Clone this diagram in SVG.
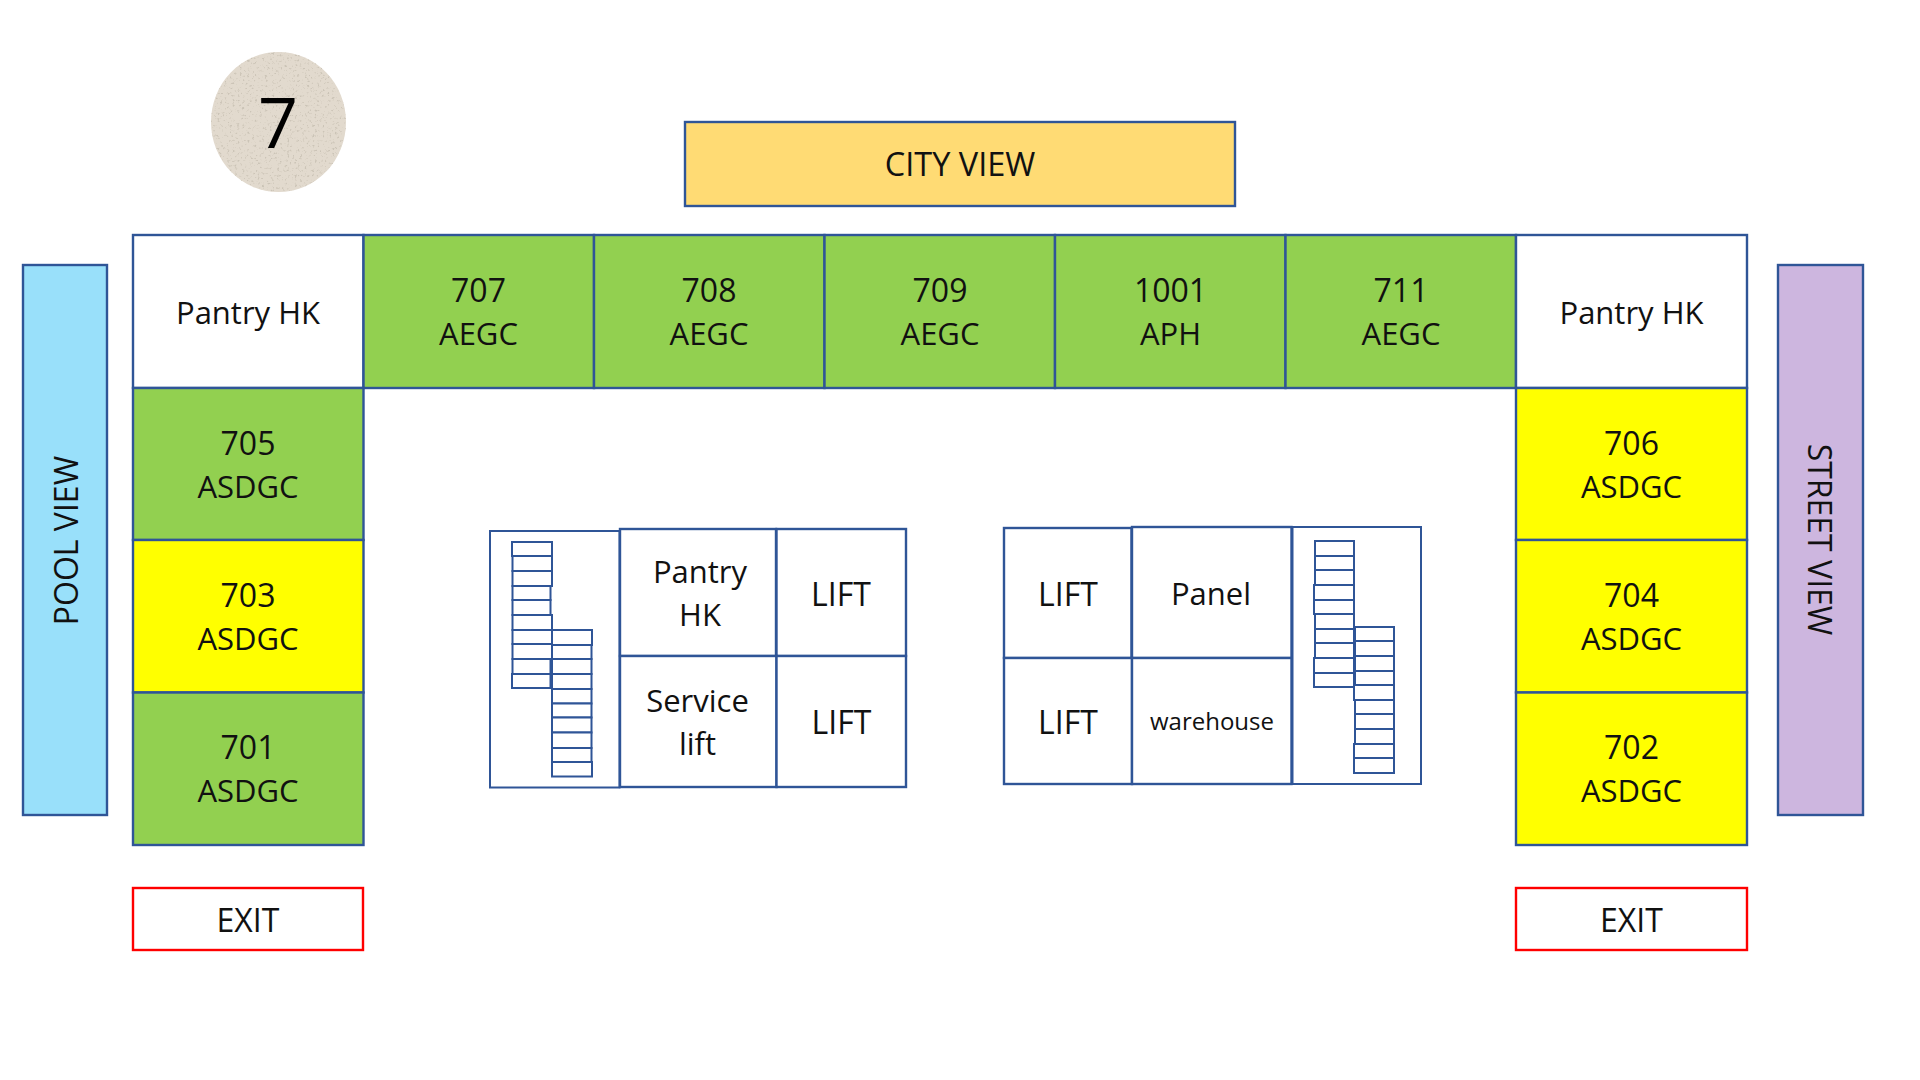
<svg xmlns="http://www.w3.org/2000/svg" width="1920" height="1080" viewBox="0 0 1920 1080">
<style>
text{font-family:"Open Sans","Noto Sans","Liberation Sans",sans-serif;font-size:31px;fill:#111;text-anchor:middle}
.c{font-size:32px}
rect{stroke:#2F5597;stroke-width:2.4}
.w{fill:#fff}.g{fill:#92D050}.y{fill:#FFFF00}
.e{fill:#fff;stroke:#FF0000}
.s{fill:#fff;stroke-width:2}
</style>
<defs>
<filter id="stone" x="0" y="0" width="1" height="1">
<feTurbulence type="fractalNoise" baseFrequency="0.4" numOctaves="3" seed="7" result="n"/>
<feColorMatrix in="n" type="matrix" values="0 0 0 0 0.6  0 0 0 0 0.55  0 0 0 0 0.47  0 0 0 -5 2.05" result="sp"/>
<feComposite in="sp" in2="SourceGraphic" operator="in" result="c"/>
<feMerge><feMergeNode in="SourceGraphic"/><feMergeNode in="c"/></feMerge>
</filter>
</defs>
<rect width="1920" height="1080" style="fill:#fff;stroke:none"/>
<g id="floor-badge"><ellipse cx="278.500" cy="122" rx="67.500" ry="70" fill="#E2DACE" filter="url(#stone)"/><text x="278" y="148" style="font-size:70px;fill:#000;font-weight:500">7</text></g>
<g id="city-view"><rect x="685" y="122" width="550" height="84" fill="#FFDB74"/><text class="c" x="960" y="176" style="font-size:32.500px">CITY VIEW</text></g>
<g id="pool-view"><rect x="23" y="265" width="84" height="550" fill="#99E0FA"/><text class="c" transform="translate(78 540.500) rotate(-90)">POOL VIEW</text></g>
<g id="street-view"><rect x="1778" y="265" width="85" height="550" fill="#CDB6DF"/><text class="c" transform="translate(1808 539.500) rotate(90)">STREET VIEW</text></g>
<g id="pantry-left"><rect class="w" x="133" y="235" width="230.500" height="153"/><text x="248" y="324">Pantry HK</text></g>
<g id="r707"><rect class="g" x="363.500" y="235" width="230.500" height="153"/><text class="c" x="478.500" y="302">707</text><text x="478.500" y="345">AEGC</text></g>
<g id="r708"><rect class="g" x="594" y="235" width="230.500" height="153"/><text class="c" x="709" y="302">708</text><text x="709" y="345">AEGC</text></g>
<g id="r709"><rect class="g" x="824.500" y="235" width="230.500" height="153"/><text class="c" x="940" y="302">709</text><text x="940" y="345">AEGC</text></g>
<g id="r1001"><rect class="g" x="1055" y="235" width="230.500" height="153"/><text class="c" x="1170.500" y="302">1001</text><text x="1170.500" y="345">APH</text></g>
<g id="r711"><rect class="g" x="1285.500" y="235" width="230.500" height="153"/><text class="c" x="1401" y="302">711</text><text x="1401" y="345">AEGC</text></g>
<g id="pantry-right"><rect class="w" x="1516" y="235" width="231" height="153"/><text x="1631.500" y="324">Pantry HK</text></g>
<g id="r705"><rect class="g" x="133" y="388" width="230.500" height="152"/><text class="c" x="248" y="455">705</text><text x="248" y="498">ASDGC</text></g>
<g id="r703"><rect class="y" x="133" y="540" width="230.500" height="152.500"/><text class="c" x="248" y="607">703</text><text x="248" y="650">ASDGC</text></g>
<g id="r701"><rect class="g" x="133" y="692.500" width="230.500" height="152.500"/><text class="c" x="248" y="759">701</text><text x="248" y="802">ASDGC</text></g>
<g id="r706"><rect class="y" x="1516" y="388" width="231" height="152"/><text class="c" x="1631.500" y="455">706</text><text x="1631.500" y="498">ASDGC</text></g>
<g id="r704"><rect class="y" x="1516" y="540" width="231" height="152.500"/><text class="c" x="1631.500" y="607">704</text><text x="1631.500" y="650">ASDGC</text></g>
<g id="r702"><rect class="y" x="1516" y="692.500" width="231" height="152.500"/><text class="c" x="1631.500" y="759">702</text><text x="1631.500" y="802">ASDGC</text></g>
<g id="exit-left"><rect class="e" x="133" y="888" width="230" height="62"/><text class="c" x="248" y="932">EXIT</text></g>
<g id="exit-right"><rect class="e" x="1516" y="888" width="231" height="62"/><text class="c" x="1631.500" y="932">EXIT</text></g>
<g id="stair-left">
<rect class="s" x="490" y="531" width="129.500" height="256.500"/>
<rect class="s" x="512" y="542" width="40" height="14"/><rect class="s" x="512.500" y="556" width="39.500" height="15"/><rect class="s" x="512.500" y="571" width="39.500" height="15"/><rect class="s" x="512.500" y="586" width="38" height="14"/><rect class="s" x="512.500" y="600" width="38" height="15"/><rect class="s" x="512.500" y="615" width="39.500" height="15"/><rect class="s" x="512.500" y="630" width="39.500" height="14"/><rect class="s" x="512.500" y="644" width="39.500" height="15"/><rect class="s" x="512.500" y="659" width="38" height="15"/><rect class="s" x="512" y="674" width="38.500" height="14"/>
<rect class="s" x="552" y="630" width="40" height="15"/><rect class="s" x="552" y="645" width="39.500" height="14"/><rect class="s" x="552" y="659" width="39.500" height="15"/><rect class="s" x="552" y="674" width="39.500" height="15"/><rect class="s" x="552" y="689" width="39.500" height="14.500"/><rect class="s" x="552" y="703.500" width="39.500" height="14"/><rect class="s" x="552" y="717.500" width="39.500" height="15"/><rect class="s" x="552" y="732.500" width="39.500" height="15.500"/><rect class="s" x="552" y="748" width="39.500" height="14"/><rect class="s" x="552" y="762" width="40" height="14.500"/>
</g>
<g id="pantry-core"><rect class="w" x="620" y="529" width="156" height="127"/><text x="700" y="583">Pantry</text><text x="700" y="626">HK</text></g>
<g id="lift-1"><rect class="w" x="776.500" y="529" width="129.500" height="127"/><text class="c" x="841" y="606">LIFT</text></g>
<g id="service-lift"><rect class="w" x="620" y="656" width="156.500" height="131"/><text x="697.500" y="712">Service</text><text x="697.500" y="755">lift</text></g>
<g id="lift-2"><rect class="w" x="776.500" y="656" width="129.500" height="131"/><text class="c" x="841.500" y="734">LIFT</text></g>
<g id="lift-3"><rect class="w" x="1004" y="528" width="127.500" height="130"/><text class="c" x="1068" y="606">LIFT</text></g>
<g id="panel"><rect class="w" x="1132" y="527" width="159.500" height="131"/><text x="1211" y="605">Panel</text></g>
<g id="lift-4"><rect class="w" x="1004" y="658" width="128" height="126"/><text class="c" x="1068" y="734">LIFT</text></g>
<g id="warehouse"><rect class="w" x="1132" y="658" width="159.500" height="126"/><text x="1212" y="730" style="font-size:24px">warehouse</text></g>
<g id="stair-right">
<rect class="s" x="1292.500" y="527" width="128.500" height="257"/>
<rect class="s" x="1315" y="541" width="39" height="15"/><rect class="s" x="1315" y="556" width="39" height="14"/><rect class="s" x="1315" y="570" width="39" height="15"/><rect class="s" x="1314" y="585" width="40" height="15"/><rect class="s" x="1314" y="600" width="40" height="14"/><rect class="s" x="1315" y="614" width="39" height="15"/><rect class="s" x="1315" y="629" width="39" height="14"/><rect class="s" x="1315" y="643" width="39" height="15"/><rect class="s" x="1314" y="658" width="40" height="15"/><rect class="s" x="1314" y="673" width="40" height="14"/>
<rect class="s" x="1355" y="627" width="39" height="14"/><rect class="s" x="1355" y="641" width="39" height="15"/><rect class="s" x="1355" y="656" width="39" height="15"/><rect class="s" x="1355" y="671" width="39" height="14"/><rect class="s" x="1354" y="685" width="40" height="15"/><rect class="s" x="1355" y="700" width="39" height="14"/><rect class="s" x="1355" y="714" width="39" height="15"/><rect class="s" x="1355" y="729" width="39" height="15"/><rect class="s" x="1354" y="744" width="40" height="14"/><rect class="s" x="1354" y="758" width="40" height="15"/>
</g>
</svg>
